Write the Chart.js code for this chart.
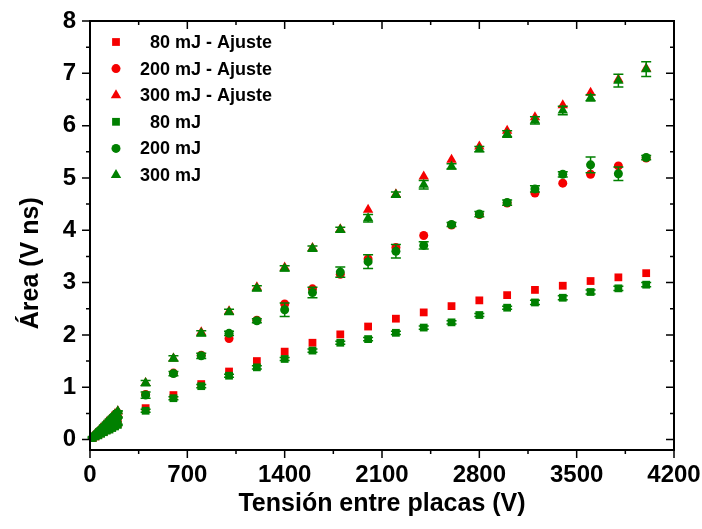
<!DOCTYPE html>
<html>
<head>
<meta charset="utf-8">
<script src="https://cdn.jsdelivr.net/npm/chart.js@4.4.1/dist/chart.umd.min.js"></script>
<style>
  html, body { margin: 0; padding: 0; background: #fff; }
  canvas { display: block; }
</style>
</head>
<body>
<canvas id="area" width="702" height="529"></canvas>
<script>
// voltage between plates (V)
var volts = [20, 40, 60, 80, 100, 120, 140, 160, 180, 200,
  400, 600, 800, 1000, 1200, 1400, 1600, 1800, 2000, 2200,
  2400, 2600, 2800, 3000, 3200, 3400, 3600, 3800, 4000];

// fitted areas (V ns)
var fit80 = [0.03, 0.06, 0.09, 0.12, 0.15, 0.18, 0.21, 0.24, 0.27, 0.30,
  0.60, 0.85, 1.06, 1.30, 1.50, 1.68, 1.85, 2.01, 2.16, 2.31,
  2.43, 2.55, 2.66, 2.76, 2.86, 2.94, 3.03, 3.10, 3.18];
var fit200 = [0.04, 0.09, 0.13, 0.17, 0.22, 0.26, 0.30, 0.35, 0.39, 0.43,
  0.86, 1.27, 1.61, 1.93, 2.28, 2.59, 2.88, 3.16, 3.45, 3.67,
  3.90, 4.10, 4.30, 4.52, 4.71, 4.90, 5.07, 5.23, 5.38];
var fit300 = [0.05, 0.11, 0.16, 0.22, 0.27, 0.33, 0.38, 0.44, 0.49, 0.54,
  1.08, 1.55, 2.05, 2.45, 2.91, 3.29, 3.66, 4.02, 4.39, 4.69,
  5.03, 5.35, 5.60, 5.90, 6.16, 6.39, 6.63, 6.88, 7.09];

// measured areas (V ns)
var exp80 = [0.03, 0.06, 0.08, 0.11, 0.14, 0.17, 0.19, 0.22, 0.25, 0.28,
  0.55, 0.79, 1.02, 1.22, 1.38, 1.54, 1.70, 1.85, 1.92, 2.04,
  2.14, 2.24, 2.38, 2.52, 2.62, 2.71, 2.82, 2.89, 2.96];
var exp200 = [0.04, 0.08, 0.13, 0.17, 0.21, 0.25, 0.30, 0.34, 0.38, 0.42,
  0.85, 1.26, 1.60, 2.03, 2.27, 2.48, 2.81, 3.20, 3.40, 3.60,
  3.71, 4.11, 4.31, 4.53, 4.79, 5.07, 5.25, 5.08, 5.39];
var exp300 = [0.05, 0.11, 0.16, 0.21, 0.27, 0.32, 0.38, 0.43, 0.48, 0.54,
  1.08, 1.55, 2.03, 2.44, 2.89, 3.27, 3.65, 4.01, 4.23, 4.68,
  4.87, 5.22, 5.55, 5.84, 6.10, 6.29, 6.53, 6.86, 7.08];

// errors of the measured areas
var err80 = [0.01, 0.01, 0.01, 0.01, 0.01, 0.01, 0.01, 0.01, 0.01, 0.01,
  0.03, 0.03, 0.03, 0.03, 0.03, 0.03, 0.03, 0.03, 0.03, 0.03,
  0.03, 0.03, 0.03, 0.03, 0.04, 0.04, 0.04, 0.04, 0.04];
var err200 = [0.01, 0.01, 0.01, 0.01, 0.01, 0.01, 0.01, 0.01, 0.01, 0.01,
  0.06, 0.04, 0.05, 0.04, 0.04, 0.13, 0.10, 0.10, 0.13, 0.13,
  0.07, 0.04, 0.05, 0.05, 0.06, 0.05, 0.15, 0.13, 0.04];
var err300 = [0.01, 0.01, 0.01, 0.01, 0.01, 0.01, 0.01, 0.01, 0.01, 0.01,
  0.05, 0.05, 0.05, 0.05, 0.05, 0.05, 0.05, 0.05, 0.07, 0.05,
  0.08, 0.05, 0.05, 0.06, 0.07, 0.08, 0.06, 0.12, 0.14];

var xTicks = [0, 700, 1400, 2100, 2800, 3500, 4200];
var yTicks = [0, 1, 2, 3, 4, 5, 6, 7, 8];

var red = '#f50000';
var green = '#008000';
var fontFam = "'Liberation Sans', Arial, sans-serif";
var tickFam = "'Liberation Sans Narrow', 'Arial Narrow', 'Liberation Sans', sans-serif";

function pts(vals){
	return volts.map(function(v, i){ return {x: v, y: vals[i]}; });
}

function series(label, vals, color, shape, r, order, errs){
	return {
		label: label,
		data: pts(vals),
		pointStyle: shape,
		pointRadius: r,
		pointHoverRadius: r,
		backgroundColor: color,
		borderColor: color,
		borderWidth: 0,
		showLine: false,
		order: order,
		errs: errs
	};
}

// draws the error bars of the measured series right after each one
var errorBars = {
	id: 'errorBars',
	afterDatasetDraw: function(chart, args){
		var ds = chart.data.datasets[args.index];
		if(!ds.errs) return;
		var ctx = chart.ctx, y = chart.scales.y, x = chart.scales.x;
		ctx.save();
		ctx.strokeStyle = ds.borderColor;
		ctx.lineWidth = 1.5;
		ctx.beginPath();
		ds.data.forEach(function(p, i){
			var px = x.getPixelForValue(p.x);
			var top = y.getPixelForValue(p.y + ds.errs[i]);
			var bot = y.getPixelForValue(p.y - ds.errs[i]);
			ctx.moveTo(px, top); ctx.lineTo(px, bot);
			ctx.moveTo(px - 5, top); ctx.lineTo(px + 5, top);
			ctx.moveTo(px - 5, bot); ctx.lineTo(px + 5, bot);
		});
		ctx.stroke();
		ctx.restore();
	}
};

// box around the plot with major and minor ticks
var frame = {
	id: 'frame',
	afterDraw: function(chart){
		var ctx = chart.ctx, a = chart.chartArea;
		var x = chart.scales.x, y = chart.scales.y;
		ctx.save();
		ctx.strokeStyle = '#000';
		ctx.lineWidth = 1.5;
		ctx.beginPath();
		xTicks.forEach(function(v, i){
			var px = x.getPixelForValue(v);
			ctx.moveTo(px, a.bottom); ctx.lineTo(px, a.bottom + 8);
			ctx.moveTo(px, a.top); ctx.lineTo(px, a.top + 8);
			if(i > 0){
				var mx = x.getPixelForValue((v + xTicks[i-1]) / 2);
				ctx.moveTo(mx, a.bottom); ctx.lineTo(mx, a.bottom + 4);
				ctx.moveTo(mx, a.top); ctx.lineTo(mx, a.top + 4);
			}
		});
		yTicks.forEach(function(v, i){
			var py = y.getPixelForValue(v);
			ctx.moveTo(a.left, py); ctx.lineTo(a.left - 8, py);
			ctx.moveTo(a.right, py); ctx.lineTo(a.right - 8, py);
			if(i > 0){
				var my = y.getPixelForValue((v + yTicks[i-1]) / 2);
				ctx.moveTo(a.left, my); ctx.lineTo(a.left - 4, my);
				ctx.moveTo(a.right, my); ctx.lineTo(a.right - 4, my);
			}
		});
		ctx.stroke();
		ctx.lineWidth = 2;
		ctx.strokeRect(a.left, a.top, a.right - a.left, a.bottom - a.top);
		ctx.restore();
	}
};

// legend inside the plot, top left
var insideLegend = {
	id: 'insideLegend',
	afterDraw: function(chart){
		var ctx = chart.ctx, a = chart.chartArea;
		ctx.save();
		ctx.font = 'bold 18px ' + fontFam;
		ctx.textBaseline = 'middle';
		ctx.textAlign = 'left';
		chart.data.datasets.forEach(function(ds, i){
			var cy = a.top + 21 + i * 26.6;
			ctx.fillStyle = ds.backgroundColor;
			ctx.strokeStyle = ds.borderColor;
			Chart.helpers.drawPoint(ctx, {pointStyle: ds.pointStyle, radius: ds.pointRadius, rotation: 0, borderWidth: 0}, a.left + 26, cy);
			ctx.fillStyle = '#000';
			ctx.fillText(ds.label, a.left + 50, cy + 1);
		});
		ctx.restore();
	}
};

var ctx = document.getElementById('area').getContext('2d');
new Chart(ctx, {
	type: 'scatter',
	data: {
		datasets: [
			series('  80 mJ - Ajuste', fit80, red, 'rect', 5.5, 1),
			series('200 mJ - Ajuste', fit200, red, 'circle', 4.5, 1),
			series('300 mJ - Ajuste', fit300, red, 'triangle', 6, 1),
			series('  80 mJ', exp80, green, 'rect', 5.5, 0, err80),
			series('200 mJ', exp200, green, 'circle', 4.5, 0, err200),
			series('300 mJ', exp300, green, 'triangle', 6, 0, err300)
		]
	},
	options: {
		responsive: false,
		animation: false,
		devicePixelRatio: 1,
		layout: { padding: { top: 21, right: 28, left: 0, bottom: 0 } },
		plugins: {
			legend: { display: false },
			tooltip: { enabled: false }
		},
		scales: {
			x: {
				type: 'linear',
				min: 0,
				max: 4200,
				afterBuildTicks: function(s){ s.ticks = xTicks.map(function(v){ return {value: v}; }); },
				afterFit: function(s){ s.height = 79; s.paddingLeft = 0; s.paddingRight = 0; },
				grid: { display: false, drawTicks: false },
				border: { display: false },
				ticks: { color: '#000', font: { family: tickFam, size: 24, weight: 'bold' }, padding: 11, maxRotation: 0, autoSkip: false,
					callback: function(v){ return String(v); } },
				title: { display: true, text: 'Tensión entre placas (V)', color: '#000', font: { family: fontFam, size: 25, weight: 'bold' }, padding: { top: 0, bottom: 10 } }
			},
			y: {
				type: 'linear',
				min: -0.2,
				max: 8,
				afterBuildTicks: function(s){ s.ticks = yTicks.map(function(v){ return {value: v}; }); },
				afterFit: function(s){ s.width = 90; s.paddingTop = 0; s.paddingBottom = 0; },
				grid: { display: false, drawTicks: false },
				border: { display: false },
				ticks: { color: '#000', font: { family: tickFam, size: 24, weight: 'bold' }, padding: 14,
					callback: function(v){ return String(v); } },
				// trailing spaces push the centred title down like in the original
				title: { display: true, text: 'Área (V ns)        ', color: '#000', font: { family: fontFam, size: 25, weight: 'bold' }, padding: { top: 16, bottom: 0 } }
			}
		}
	},
	plugins: [errorBars, frame, insideLegend]
});
</script>
</body>
</html>
